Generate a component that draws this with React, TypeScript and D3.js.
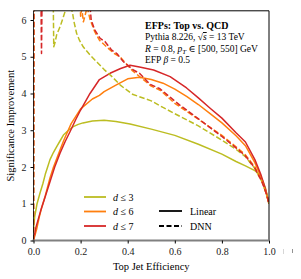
import React, { useEffect, useRef } from "react";
import * as d3 from "d3";

type Pt = [number, number];

// [top jet efficiency, significance improvement]
const linearD3: Pt[] = [
  [0, 0.3], [0.005, 0.65], [0.015, 1.0], [0.028, 1.3], [0.04, 1.55], [0.05, 1.8], [0.06, 2.0],
  [0.07, 2.2], [0.085, 2.4], [0.098, 2.55], [0.11, 2.68], [0.127, 2.87], [0.145, 2.98],
  [0.169, 3.1], [0.19, 3.16], [0.21, 3.2], [0.25, 3.25], [0.3, 3.27], [0.35, 3.24],
  [0.41, 3.17], [0.5, 3.03], [0.6, 2.86], [0.7, 2.62], [0.8, 2.35], [0.86, 2.15],
  [0.9, 2.03], [0.94, 1.9], [0.96, 1.8], [0.975, 1.6], [0.985, 1.42], [0.993, 1.22], [1.0, 1.0],
];
const linearD6: Pt[] = [
  [0, 0.0], [0.013, 0.3], [0.025, 0.65], [0.035, 0.9], [0.05, 1.22], [0.07, 1.7],
  [0.085, 2.0], [0.1, 2.25], [0.115, 2.5], [0.13, 2.75], [0.16, 3.18], [0.2, 3.58],
  [0.25, 3.85], [0.28, 3.95], [0.3, 4.05], [0.35, 4.23], [0.4, 4.4], [0.45, 4.44],
  [0.5, 4.38], [0.55, 4.28], [0.6, 4.12], [0.65, 3.92], [0.7, 3.7], [0.75, 3.45],
  [0.8, 3.2], [0.86, 2.85], [0.9, 2.58], [0.94, 2.12], [0.965, 1.75], [0.985, 1.35], [1.0, 1.0],
];
const linearD7: Pt[] = [
  [0, 0.0], [0.01, 0.35], [0.03, 0.8], [0.05, 1.2], [0.07, 1.6], [0.09, 2.0], [0.113, 2.38],
  [0.135, 2.7], [0.155, 2.96], [0.18, 3.3], [0.2, 3.55], [0.24, 4.0], [0.28, 4.38],
  [0.325, 4.55], [0.37, 4.68], [0.41, 4.77], [0.45, 4.72], [0.51, 4.64], [0.58, 4.46],
  [0.65, 4.15], [0.7, 3.88], [0.75, 3.6], [0.8, 3.33], [0.86, 2.93], [0.9, 2.68],
  [0.94, 2.2], [0.965, 1.8], [0.985, 1.4], [1.0, 1.0],
];
const dnnD3: Pt[] = [
  [0, 0.0], [0.0015, 7], [0.083, 7], [0.086, 5.27], [0.092, 5.4], [0.098, 5.59],
  [0.105, 5.7], [0.113, 5.82], [0.12, 5.95], [0.127, 6.09], [0.14, 6.35], [0.155, 6.4],
  [0.165, 6.22], [0.172, 5.95], [0.183, 5.64], [0.195, 5.45], [0.211, 5.27], [0.24, 5.05],
  [0.27, 4.85], [0.3, 4.65], [0.33, 4.48], [0.37, 4.22], [0.42, 3.98], [0.5, 3.8],
  [0.55, 3.62], [0.6, 3.45], [0.7, 3.12], [0.8, 2.73], [0.86, 2.48], [0.9, 2.28],
  [0.94, 1.96], [0.97, 1.6], [0.99, 1.25], [1.0, 1.0],
];
const dnnD6: Pt[] = [
  [0, 0.0], [0.0015, 7], [0.195, 7], [0.2, 6.1], [0.205, 6.3], [0.212, 5.95],
  [0.22, 6.15], [0.228, 6.35], [0.24, 6.02], [0.26, 5.68], [0.28, 5.45], [0.31, 5.27],
  [0.34, 5.1], [0.37, 4.98], [0.42, 4.62], [0.5, 4.2], [0.54, 4.08], [0.6, 3.73],
  [0.7, 3.3], [0.8, 2.86], [0.86, 2.55], [0.9, 2.33], [0.94, 2.0], [0.97, 1.62],
  [0.99, 1.25], [1.0, 1.0],
];
const dnnD7: Pt[] = [
  [0, 0.0], [0.0015, 7], [0.031, 7], [0.034, 5.09], [0.037, 7], [0.232, 7],
  [0.245, 6.0], [0.26, 5.73], [0.283, 5.5], [0.304, 5.41], [0.332, 5.18], [0.355, 5.08],
  [0.381, 4.87], [0.424, 4.64], [0.45, 4.55], [0.495, 4.25], [0.537, 4.13], [0.58, 3.9],
  [0.62, 3.69], [0.707, 3.28], [0.8, 2.83], [0.86, 2.52], [0.9, 2.3], [0.94, 1.97],
  [0.97, 1.6], [0.99, 1.25], [1.0, 1.0],
];

const xTicks = [0, 0.2, 0.4, 0.6, 0.8, 1.0];
const yTicks = [0, 1, 2, 3, 4, 5, 6];
const infoLines = [
  "Pythia 8.226, \u221As = 13 TeV",
  "R = 0.8, p_T \u2208 [500, 550] GeV",
  "EFP \u03B2 = 0.5",
];

const colors = { d3: "#bcbd22", d6: "#ff7f0e", d7: "#d62728" };
const serif = "'Liberation Serif', 'DejaVu Serif', serif";

const App: React.FC = () => {
  const svgRef = useRef<SVGSVGElement | null>(null);

  useEffect(() => {
    const svg = d3.select(svgRef.current);
    svg.selectAll("*").remove();

    const width = 301;
    const height = 279;
    const left = 33.5, right = 269, top = 10.8, bottom = 240.5;

    const x = d3.scaleLinear().domain([0, 1]).range([left, right]);
    const y = d3.scaleLinear().domain([0, 6.25]).range([bottom, top]);

    svg.attr("width", width).attr("height", height);

    svg.append("defs")
      .append("clipPath")
      .attr("id", "plotclip")
      .append("rect")
      .attr("x", left)
      .attr("y", top)
      .attr("width", right - left)
      .attr("height", bottom - top);

    const line = d3.line<Pt>()
      .x((d) => x(d[0]))
      .y((d) => y(d[1]));

    const series = [
      { data: linearD3, color: colors.d3, dashed: false },
      { data: linearD6, color: colors.d6, dashed: false },
      { data: linearD7, color: colors.d7, dashed: false },
      { data: dnnD3, color: colors.d3, dashed: true },
      { data: dnnD6, color: colors.d6, dashed: true },
      { data: dnnD7, color: colors.d7, dashed: true },
    ];

    const g = svg.append("g").attr("clip-path", "url(#plotclip)");
    series.forEach((s) => {
      g.append("path")
        .attr("d", line(s.data)!)
        .attr("fill", "none")
        .attr("stroke", s.color)
        .attr("stroke-width", 1.5)
        .attr("stroke-linejoin", "round")
        .attr("stroke-dasharray", s.dashed ? "5.5,2.4" : null);
    });

    // spines
    svg.append("line").attr("x1", left).attr("x2", right).attr("y1", top).attr("y2", top)
      .attr("stroke", "black").attr("stroke-width", 1);
    svg.append("line").attr("x1", right).attr("x2", right).attr("y1", top).attr("y2", bottom)
      .attr("stroke", "black").attr("stroke-width", 1);
    svg.append("line").attr("x1", left).attr("x2", left).attr("y1", top).attr("y2", bottom)
      .attr("stroke", "black").attr("stroke-width", 0.8);
    svg.append("line").attr("x1", left - 1).attr("x2", right).attr("y1", bottom).attr("y2", bottom)
      .attr("stroke", "#808080").attr("stroke-width", 2);

    // x axis
    const xAxis = svg.append("g")
      .attr("transform", `translate(0,${bottom})`)
      .call(d3.axisBottom(x).tickValues(xTicks).tickFormat(d3.format(".1f")).tickSize(3).tickPadding(4));
    xAxis.select(".domain").remove();
    xAxis.selectAll("text").attr("font-family", serif).attr("font-size", 10).attr("fill", "#222");

    // y axis
    const yAxis = svg.append("g")
      .attr("transform", `translate(${left},0)`)
      .call(d3.axisLeft(y).tickValues(yTicks).tickFormat(d3.format("d")).tickSize(3).tickPadding(4));
    yAxis.select(".domain").remove();
    yAxis.selectAll("text").attr("font-family", serif).attr("font-size", 10).attr("fill", "#222");

    svg.append("text")
      .attr("x", (left + right) / 2)
      .attr("y", 270)
      .attr("text-anchor", "middle")
      .attr("font-family", serif)
      .attr("font-size", 10.5)
      .text("Top Jet Efficiency");

    svg.append("text")
      .attr("transform", `translate(13.5,${(top + bottom) / 2}) rotate(-90)`)
      .attr("text-anchor", "middle")
      .attr("font-family", serif)
      .attr("font-size", 10.5)
      .text("Significance Improvement");

    // info block
    svg.append("text")
      .attr("x", 145)
      .attr("y", 28.5)
      .attr("font-family", serif)
      .attr("font-weight", "bold")
      .attr("font-size", 10)
      .text("EFPs: Top vs. QCD");

    const info1 = svg.append("text").attr("x", 145).attr("y", 40)
      .attr("font-family", serif).attr("font-size", 9.5);
    info1.append("tspan").text("Pythia 8.226, \u221A");
    info1.append("tspan").attr("text-decoration", "overline").attr("font-style", "italic").text("s");
    info1.append("tspan").text(" = 13 TeV");

    const info2 = svg.append("text").attr("x", 145).attr("y", 51.5)
      .attr("font-family", serif).attr("font-size", 9.5);
    info2.append("tspan").attr("font-style", "italic").text("R");
    info2.append("tspan").text(" = 0.8, ");
    info2.append("tspan").attr("font-style", "italic").text("p");
    info2.append("tspan").attr("font-style", "italic").attr("font-size", 7).attr("dy", 2).text("T");
    info2.append("tspan").attr("dy", -2).text(" \u2208 [500, 550] GeV");

    const info3 = svg.append("text").attr("x", 145).attr("y", 63)
      .attr("font-family", serif).attr("font-size", 9.5);
    info3.append("tspan").text("EFP ");
    info3.append("tspan").attr("font-style", "italic").text("\u03B2");
    info3.append("tspan").text(" = 0.5");
    void infoLines;

    // legend: degree
    const degLegend = [
      { label: "3", color: colors.d3 },
      { label: "6", color: colors.d6 },
      { label: "7", color: colors.d7 },
    ];
    degLegend.forEach((d, i) => {
      const ly = 197 + i * 14.5;
      svg.append("line").attr("x1", 84).attr("x2", 106).attr("y1", ly).attr("y2", ly)
        .attr("stroke", d.color).attr("stroke-width", 1.8);
      const t = svg.append("text").attr("x", 113).attr("y", ly + 3.5)
        .attr("font-family", serif).attr("font-size", 10);
      t.append("tspan").attr("font-style", "italic").text("d");
      t.append("tspan").text(` \u2264 ${d.label}`);
    });

    // legend: model
    const modelLegend = [
      { label: "Linear", dashed: false },
      { label: "DNN", dashed: true },
    ];
    modelLegend.forEach((d, i) => {
      const ly = 211 + i * 15;
      svg.append("line").attr("x1", 159).attr("x2", 182).attr("y1", ly).attr("y2", ly)
        .attr("stroke", "black").attr("stroke-width", 1.8)
        .attr("stroke-dasharray", d.dashed ? "5,2.5" : null);
      svg.append("text").attr("x", 190).attr("y", ly + 3.5)
        .attr("font-family", serif).attr("font-size", 10).text(d.label);
    });

    // faint clipped marks right of the axis
    svg.append("line").attr("x1", 283.5).attr("x2", 283.5).attr("y1", 249).attr("y2", 254)
      .attr("stroke", "#ccc").attr("stroke-width", 0.8);
    svg.append("line").attr("x1", 292.5).attr("x2", 292.5).attr("y1", 249).attr("y2", 253)
      .attr("stroke", "#777").attr("stroke-width", 0.8);
  }, []);

  return (
    <div style={{ position: "absolute", left: 0, top: 0, width: 301, height: 279, background: "white" }}>
      <svg ref={svgRef}></svg>
    </div>
  );
};

export default App;
